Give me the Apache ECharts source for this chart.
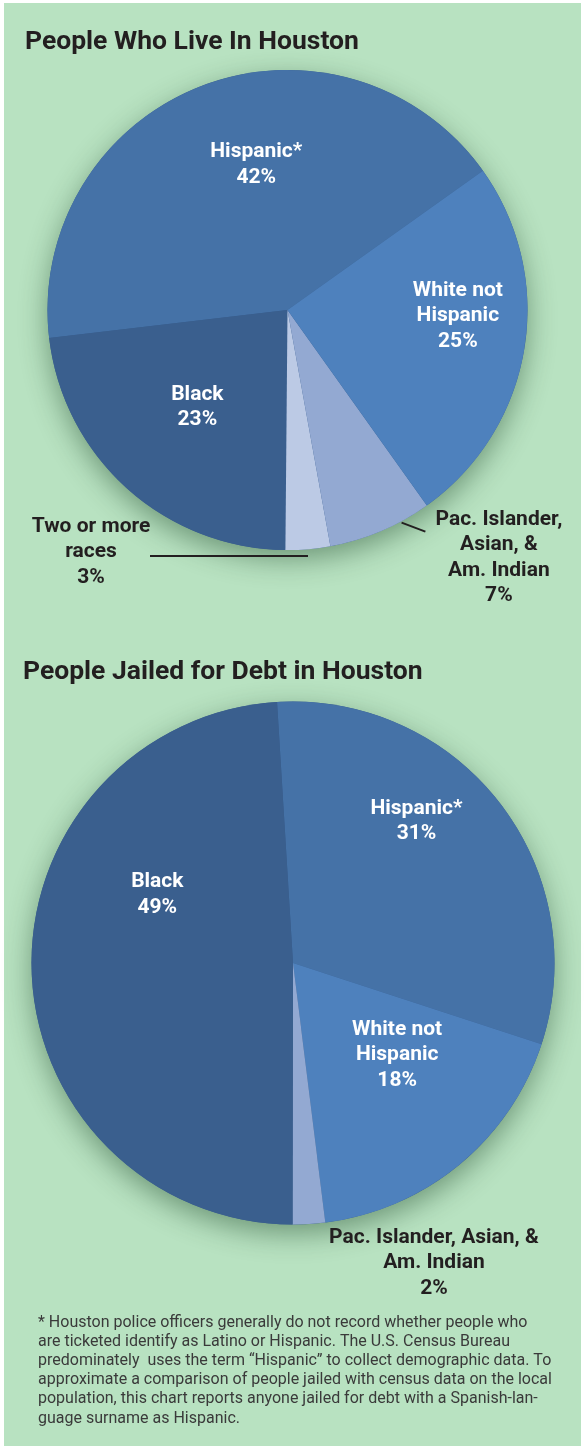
<!DOCTYPE html>
<html><head><meta charset="utf-8">
<script src="https://cdn.jsdelivr.net/npm/echarts@6/dist/echarts.min.js"></script>
<style>
html,body{margin:0;padding:0;background:#ffffff;}
#bg{position:absolute;left:4px;top:3px;width:577px;height:1443px;background:#b8e2c1;}
#chart{position:absolute;left:0;top:0;width:584px;height:1446px;}
</style></head><body>
<div id="bg"></div><div id="chart"></div>
<script>
// ---- data ----
const titles = ['People Who Live In Houston', 'People Jailed for Debt in Houston'];
const livingCategories = ['Hispanic*', 'Black', 'Two or more\nraces', 'Pac. Islander,\nAsian, &\nAm. Indian', 'White not\nHispanic'];
const livingValues = [42, 23, 3, 7, 25];
const jailedCategories = ['Hispanic*', 'White not\nHispanic', 'Pac. Islander, Asian, &\nAm. Indian', 'Black'];
const jailedValues = [31, 18, 2, 49];
const footnote = '* Houston police officers generally do not record whether people who\n' +
  'are ticketed identify as Latino or Hispanic. The U.S. Census Bureau\n' +
  'predominately  uses the term \u201cHispanic\u201d to collect demographic data. To\n' +
  'approximate a comparison of people jailed with census data on the local\n' +
  'population, this chart reports anyone jailed for debt with a Spanish-lan-\n' +
  'guage surname as Hispanic.';

// ---- styles / layout ----
const C = {hisp:'#4572a7', white:'#4e81bd', black:'#3a5f8e', pac:'#93a9d2', two:'#bccae5'};
const livingColors = [C.hisp, C.black, C.two, C.pac, C.white];
const jailedColors = [C.hisp, C.white, C.pac, C.black];
const PIE1 = {center:[287.5, 310], r:240, start:35.5, clockwise:false};
const PIE2 = {center:[293, 963], r:261.5, start:93.5, clockwise:true};
const livingPlace = [
  {inside:true, dx:12, dy:-33.5},
  {inside:true, dx:-10, dy:8},
  {inside:false, line:[[0,7],[-158,7]], text:[-217,3]},
  {inside:false, line:[[20.7,-8.4],[44.5,0.6]], text:[118,26.5]},
  {inside:true, dx:52, dy:-14}
];
const jailedPlace = [
  {inside:true, dx:20, dy:-62},
  {inside:true, dx:21, dy:-9},
  {inside:false, line:null, text:[125,39]},
  {inside:true, dx:-5, dy:-72}
];
const FONT = 'Roboto, "Noto Sans", sans-serif';

function midAngles(values, start, clockwise) {
  const total = values.reduce((a, b) => a + b, 0);
  let a = start; const out = [];
  values.forEach(v => {
    const span = v / total * 360;
    out.push(clockwise ? a - span / 2 : a + span / 2);
    a = clockwise ? a - span : a + span;
  });
  return out;
}
function polar(geo, ang, frac) {
  const t = ang * Math.PI / 180;
  return [geo.center[0] + Math.cos(t) * geo.r * frac, geo.center[1] - Math.sin(t) * geo.r * frac];
}
function makeLayout(geo, values, place) {
  const mids = midAngles(values, geo.start, geo.clockwise);
  return function (p) {
    const pl = place[p.dataIndex];
    const m = mids[p.dataIndex];
    if (pl.inside) {
      const c = polar(geo, m, 0.5);
      return {x: c[0] + pl.dx, y: c[1] + pl.dy, align: 'center', verticalAlign: 'middle'};
    }
    const e = polar(geo, m, 1);
    const res = {x: e[0] + pl.text[0], y: e[1] + pl.text[1], align: 'center', verticalAlign: 'middle'};
    if (pl.line) {
      const a = [e[0] + pl.line[0][0], e[1] + pl.line[0][1]];
      const b = [e[0] + pl.line[1][0], e[1] + pl.line[1][1]];
      res.labelLinePoints = [a, a, b];
    }
    return res;
  };
}
function buildData(cats, vals, colors, place) {
  return cats.map((n, i) => ({
    name: n, value: vals[i],
    itemStyle: {color: colors[i]},
    label: {
      position: place[i].inside ? 'inside' : 'outside',
      color: place[i].inside ? '#ffffff' : '#231f20'
    },
    labelLine: {show: !place[i].inside && !!place[i].line, length: 0, length2: 0,
      lineStyle: {color: '#231f20', width: 2}}
  }));
}
function shadowSeries(geo) {
  return {
    type: 'pie', silent: true, z: 1, center: geo.center, radius: geo.r,
    label: {show: false}, labelLine: {show: false},
    data: [{value: 1, itemStyle: {color: '#3a5f8e', shadowBlur: 28, shadowOffsetY: 9, shadowColor: 'rgba(20,60,30,0.45)'}}]
  };
}
const labelBase = {show: true, formatter: '{b}\n{c}%', fontFamily: FONT, fontWeight: 'bold', fontSize: 21, lineHeight: 25.5, align: 'center'};

const chart = echarts.init(document.getElementById('chart'), null, {renderer: 'canvas'});
chart.setOption({
  animation: false,
  backgroundColor: 'transparent',
  title: [
    {text: titles[0], left: 25, top: 29, padding: 0, textStyle: {fontFamily: FONT, fontWeight: 'bold', fontSize: 26.5, color: '#231f20'}},
    {text: titles[1], left: 23, top: 659, padding: 0, textStyle: {fontFamily: FONT, fontWeight: 'bold', fontSize: 26.5, color: '#231f20'}},
    {text: footnote, left: 38, top: 1313, padding: 0, textStyle: {fontFamily: FONT, fontWeight: 'normal', fontSize: 16, lineHeight: 19.2, color: '#3a3a3a'}}
  ],
  series: [
    shadowSeries(PIE1),
    {
      type: 'pie', z: 2, center: PIE1.center, radius: PIE1.r,
      startAngle: PIE1.start, clockwise: PIE1.clockwise, avoidLabelOverlap: false,
      label: labelBase, emphasis: {disabled: true},
      labelLayout: makeLayout(PIE1, livingValues, livingPlace),
      data: buildData(livingCategories, livingValues, livingColors, livingPlace)
    },
    shadowSeries(PIE2),
    {
      type: 'pie', z: 2, center: PIE2.center, radius: PIE2.r,
      startAngle: PIE2.start, clockwise: PIE2.clockwise, avoidLabelOverlap: false,
      label: labelBase, emphasis: {disabled: true},
      labelLayout: makeLayout(PIE2, jailedValues, jailedPlace),
      data: buildData(jailedCategories, jailedValues, jailedColors, jailedPlace)
    }
  ]
});
</script>
</body></html>
